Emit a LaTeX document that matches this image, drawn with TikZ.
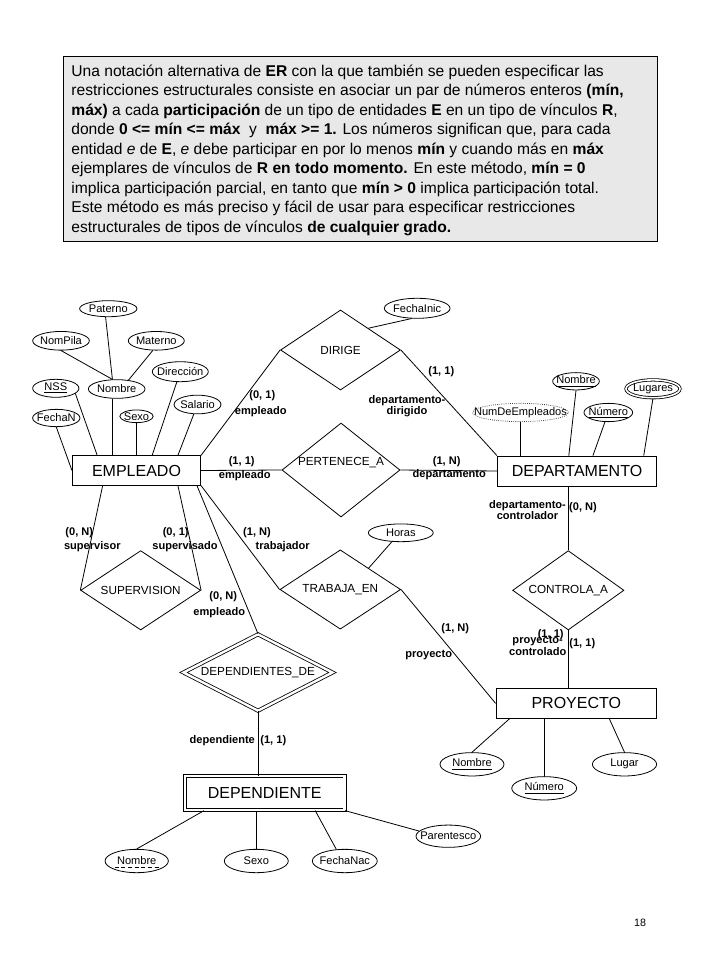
\documentclass[tikz,border=0pt]{standalone}
\usepackage{fontspec}
\setmainfont{Liberation Sans}
\usetikzlibrary{shapes.geometric}

\begin{document}
\begin{tikzpicture}[x=0.75pt, y=-0.75pt, line width=0.6pt,
  ent/.style={draw, minimum height=22.5pt, inner sep=0, font=\fontsize{12}{14}\selectfont},
  rel/.style={diamond, draw, aspect=2, inner sep=0, font=\fontsize{8.8}{10}\selectfont},
  atr/.style={ellipse, draw, inner sep=0, minimum height=14pt, font=\fontsize{8.3}{9}\selectfont,
    execute at begin node=\hbox to 0pt\bgroup\hss, execute at end node=\hss\egroup},
  lbl/.style={inner sep=0, align=center, font=\fontsize{8.3}{8.6}\selectfont\bfseries}]
\useasboundingbox (0,0) rectangle (720,960);

% recuadro con la nota
\node[draw, line width=1.1pt, fill=black!9, minimum width=445.5pt, minimum height=138.75pt,
  anchor=north west, inner sep=0] (caja) at (63,55.5) {};
\node[anchor=north west, align=left, inner sep=0, font=\fontsize{11.7}{14.6}\selectfont] (nota) at (71,64.5)
  {Una notación alternativa de \textbf{ER} con la que también se pueden especificar las\\
   restricciones estructurales consiste en asociar un par de números enteros \textbf{(mín,}\\
   \textbf{máx)} a cada \textbf{participación} de un tipo de entidades \textbf{E} en un tipo de vínculos \textbf{R},\\
   donde \textbf{0 <= mín <= máx}\ \ y\ \ \textbf{máx >= 1.} Los números significan que, para cada\\
   entidad \textit{e} de \textbf{E}, \textit{e} debe participar en por lo menos \textbf{mín} y cuando más en \textbf{máx}\\
   ejemplares de vínculos de \textbf{R en todo momento.} En este método, \textbf{mín = 0}\\
   implica participación parcial, en tanto que \textbf{mín > 0} implica participación total.\\
   Este método es más preciso y fácil de usar para especificar restricciones\\
   estructurales de tipos de vínculos \textbf{de cualquier grado.}};

% entidades
\node[ent, minimum width=96.2pt, minimum height=22pt] (emp) at (136.5,470.5) {EMPLEADO};
\node[ent, minimum width=119.5pt] (dep) at (577,471) {DEPARTAMENTO};
\node[ent, minimum width=120.5pt] (proy) at (576.3,703.3) {PROYECTO};
\node[ent, double, double distance=1.9pt, minimum width=119.8pt, minimum height=25.5pt] (depte) at (264.7,793.2) {DEPENDIENTE};

% vinculos
\node[rel, minimum width=90pt, minimum height=60pt] (dirige) at (340.5,350) {DIRIGE};
\node[rel, minimum width=88.5pt, minimum height=70.5pt] (pert) at (341,470) {\raisebox{3.5pt}[0pt][0pt]{PERTENECE\_A}};
\node[rel, minimum width=90pt, minimum height=59.5pt] (superv) at (140.7,590.3) {SUPERVISION};
\node[rel, minimum width=90.5pt, minimum height=59.5pt] (trabaja) at (340.3,589.5) {TRABAJA\_EN};
\node[rel, minimum width=83.5pt, minimum height=59.5pt] (controla) at (568.3,590.3) {CONTROLA\_A};
\node[rel, double, double distance=1.8pt, minimum width=112pt, minimum height=57.5pt] (depde) at (258,672.5) {DEPENDIENTES\_DE};

% atributos de EMPLEADO
\node[atr, minimum width=43pt, minimum height=12pt] (epat) at (108.3,308.7) {Paterno};
\node[atr, minimum width=42.5pt] (epila) at (61,340.8) {NomPila};
\node[atr, minimum width=42pt] (emat) at (156.3,340.8) {Materno};
\node[atr, minimum width=42pt, minimum height=15pt] (edir) at (180.3,371.7) {Dirección};
\node[atr, minimum width=34.7pt, minimum height=13.5pt] (enss) at (55.8,388.3) {\underline{NSS}};
\node[atr, minimum width=42.5pt] (enom) at (116.7,389) {Nombre};
\node[atr, minimum width=35.2pt] (esal) at (197.5,404.5) {Salario};
\node[atr, minimum width=35.5pt, minimum height=13pt] (efec) at (56.3,418) {FechaN};
\node[atr, minimum width=25pt, minimum height=9.5pt] (esexo) at (136.5,416.3) {Sexo};

% atributos de DIRIGE, DEPARTAMENTO y TRABAJA_EN
\node[atr, minimum width=49.3pt, minimum height=15pt] (efin) at (417.2,308.3) {FechaInic};
\node[atr, densely dotted, draw=black!75, minimum width=71.8pt, minimum height=13.7pt] (dnum2) at (520.5,412.5) {NumDeEmpleados};
\node[atr, minimum width=35pt, minimum height=13pt] (dnom) at (576,381.3) {\underline{Nombre}};
\node[atr, minimum width=36.5pt, minimum height=13.7pt] (dnum) at (608.3,412.5) {\underline{Número}};
\node[atr, double, double distance=1.2pt, minimum width=40.5pt, minimum height=13.4pt] (dlug) at (653,388.8) {Lugares};
\node[atr, minimum width=48.7pt, minimum height=13.3pt] (ehoras) at (400.8,532.8) {Horas};

% atributos de PROYECTO
\node[atr, minimum width=48pt, minimum height=17.5pt] (pnom) at (472,764.3) {\underline{Nombre}};
\node[atr, minimum width=48.7pt, minimum height=17.5pt] (pnum) at (544.2,788.3) {\underline{Número}};
\node[atr, minimum width=48.2pt, minimum height=17.5pt] (plug) at (624.5,764.3) {Lugar};

% atributos de DEPENDIENTE
\node[atr, minimum width=47.5pt, minimum height=17.5pt] (ddnom) at (136.7,861) {Nombre};
\draw[densely dashed, line width=0.4pt] ([xshift=-16.5pt,yshift=-4.4pt]ddnom.center) -- ([xshift=16.5pt,yshift=-4.4pt]ddnom.center);
\node[atr, minimum width=48pt, minimum height=17.5pt] (ddsexo) at (256.3,861) {Sexo};
\node[atr, minimum width=48.7pt, minimum height=17.5pt] (ddfec) at (344.8,861) {FechaNac};
\node[atr, minimum width=48.5pt, minimum height=16.7pt] (ddpar) at (448.3,836.2) {Parentesco};

% lineas de atributos
\draw (epat.252) -- (enom.114);
\draw (epila.south) -- (enom.114);
\draw (emat.250) -- (enom.37);
\draw (enom.246) -- (enom.246 |- emp.north);
\draw (enss.-15) -- (emp.159);
\draw (efec.south) -- (emp.west);
\draw (esexo) -- (esexo |- emp.north);
\draw (edir) -- (emp.44);
\draw (esal) -- (emp.20);
\draw (efin.241) -- (dirige.38);
\draw (dnum2) -- (dnum2 |- dep.north);
\draw (dnom.south) -- (dep.118);
\draw (dnum) -- (dep.44);
\draw (dlug.south) -- (dep.13);
\draw (ehoras.225) -- (trabaja.37);
\draw (pnom.north) -- (proy.193);
\draw (pnum) -- (pnum |- proy.south);
\draw (plug.north) -- (proy.-25);
\draw (ddnom.north) -- (depte.196);
\draw (ddsexo) -- (ddsexo |- depte.south);
\draw (ddfec.126) -- (depte.-19);
\draw (ddpar.170) -- (depte.south east);

% lineas de vinculos
\draw (emp.north east) -- (dirige.west);
\draw (dirige.east) -- (dep.north west);
\draw (emp.east) -- (pert.west);
\draw (pert.east) -- (dep.west);
\draw (emp.204.5) -- (superv.west);
\draw (emp.-20) -- (superv.east);
\draw (emp.south east) -- (trabaja.west);
\draw (trabaja.east) -- (proy.west);
\draw (emp.-14.5) -- (depde.north);
\draw (depde.south) -- (depde.south |- depte.north);
\draw (controla.north) -- (controla.north |- dep.south);
\draw (controla.south) -- (controla.south |- proy.north);

% roles y restricciones (min, max)
\node[lbl] (cd1) at (262.3,396) {(0, 1)};
\node[lbl] (rd1) at (260.7,411.3) {empleado};
\node[lbl] (cd2) at (441.3,371.7) {(1, 1)};
\node[lbl] (rd2) at (407,406) {departamento-\\dirigido};
\node[lbl] (cp1) at (241.7,461.3) {(1, 1)};
\node[lbl] (rp1) at (244.7,475.3) {empleado};
\node[lbl] (cp2) at (446.7,461.3) {(1, N)};
\node[lbl] (rp2) at (449.3,475) {departamento};
\node[lbl] (cs1) at (79.3,532.3) {(0, N)};
\node[lbl] (rs1) at (92.3,546.3) {supervisor};
\node[lbl] (cs2) at (175.7,532.3) {(0, 1)};
\node[lbl] (rs2) at (185,546.3) {supervisado};
\node[lbl] (ct1) at (257,532.3) {(1, N)};
\node[lbl] (rt1) at (282.7,547) {trabajador};
\node[lbl] (ct2) at (455.3,628.7) {(1, N)};
\node[lbl] (rt2) at (428.7,655.3) {proyecto};
\node[lbl] (ce1) at (223.3,596.7) {(0, N)};
\node[lbl] (re1) at (219.3,612.7) {empleado};
\node[lbl] (re2) at (222.3,740.3) {dependiente};
\node[lbl] (ce2) at (273.3,740.7) {(1, 1)};
\node[lbl] (rc1) at (527.5,510) {departamento-\\controlador};
\node[lbl] (cc1) at (583,507.7) {(0, N)};
\node[lbl] (cc0) at (550.7,635) {(1, 1)};
\node[lbl] (rc2) at (537.7,646) {proyecto-\\controlado};
\node[lbl] (cc2) at (582.3,643.7) {(1, 1)};

% numero de pagina
\node[inner sep=0, font=\fontsize{8}{9}\selectfont] (pag) at (640,922.7) {18};
\end{tikzpicture}
\end{document}
